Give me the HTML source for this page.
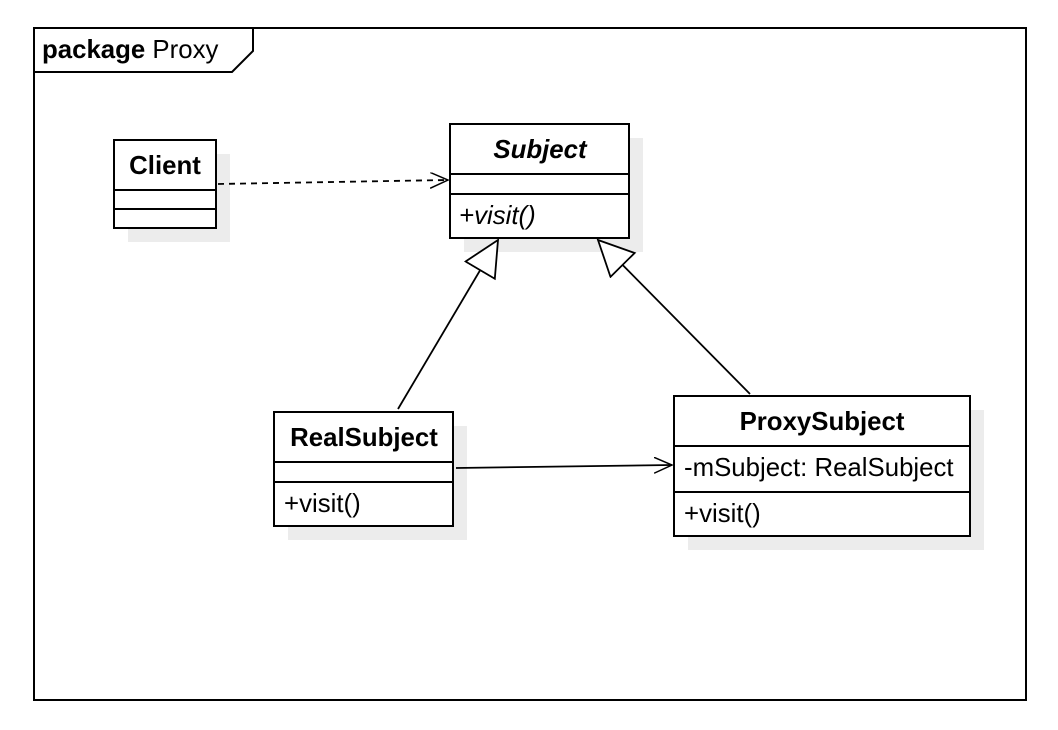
<!DOCTYPE html>
<html><head><style>body{margin:0;background:#fff}svg{display:block}text{font-family:"Liberation Sans",sans-serif;font-size:25.8px;fill:#000}</style></head>
<body>
<svg width="1058" height="730" viewBox="0 0 1058 730">
<defs>
<marker id="open" markerWidth="20" markerHeight="20" refX="18" refY="8" orient="auto" markerUnits="userSpaceOnUse"><path d="M0,0 L18,8 L0,16" fill="none" stroke="#000" stroke-width="1.5"/></marker>
<marker id="tri" markerWidth="40" markerHeight="40" refX="36" refY="18" orient="auto" markerUnits="userSpaceOnUse"><path d="M1,1 L36,18 L1,35 Z" fill="#fff" stroke="#000" stroke-width="1.8"/></marker>
</defs>
<rect x="34" y="28" width="992" height="672" fill="#fff" stroke="#000" stroke-width="2"/>
<path d="M34,72 L232,72 L253,51 L253,28" fill="none" stroke="#000" stroke-width="2"/>
<text x="42" y="58"><tspan font-weight="bold">package</tspan> Proxy</text>
<g fill="#ececec">
<rect x="128" y="154" width="102" height="88"/>
<rect x="464" y="138" width="179" height="114"/>
<rect x="288" y="426" width="179" height="114"/>
<rect x="688" y="410" width="296" height="140"/>
</g>
<g fill="#fff" stroke="#000" stroke-width="2">
<rect x="114" y="140" width="102" height="88"/>
<rect x="450" y="124" width="179" height="114"/>
<rect x="274" y="412" width="179" height="114"/>
<rect x="674" y="396" width="296" height="140"/>
</g>
<g stroke="#000" stroke-width="2">
<line x1="114" y1="190" x2="216" y2="190"/><line x1="114" y1="209" x2="216" y2="209"/>
<line x1="450" y1="174" x2="629" y2="174"/><line x1="450" y1="194" x2="629" y2="194"/>
<line x1="274" y1="462" x2="453" y2="462"/><line x1="274" y1="482" x2="453" y2="482"/>
<line x1="674" y1="446" x2="970" y2="446"/><line x1="674" y1="492" x2="970" y2="492"/>
</g>
<text x="165" y="174" text-anchor="middle" font-weight="bold">Client</text>
<text x="540" y="158" text-anchor="middle" font-weight="bold" font-style="italic">Subject</text>
<text x="459" y="224" font-style="italic">+visit()</text>
<text x="364" y="446" text-anchor="middle" font-weight="bold">RealSubject</text>
<text x="284" y="512">+visit()</text>
<text x="822" y="430" text-anchor="middle" font-weight="bold">ProxySubject</text>
<text x="684" y="476">-mSubject: RealSubject</text>
<text x="684" y="522">+visit()</text>
<g stroke="#000" stroke-width="1.8" fill="none">
<line x1="218" y1="184" x2="448" y2="180" stroke-dasharray="6,5" marker-end="url(#open)"/>
<line x1="456" y1="468" x2="672" y2="465" marker-end="url(#open)"/>
<line x1="398" y1="409" x2="498" y2="240" marker-end="url(#tri)"/>
<line x1="750" y1="394" x2="598" y2="240" marker-end="url(#tri)"/>
</g>
</svg>
</body></html>
